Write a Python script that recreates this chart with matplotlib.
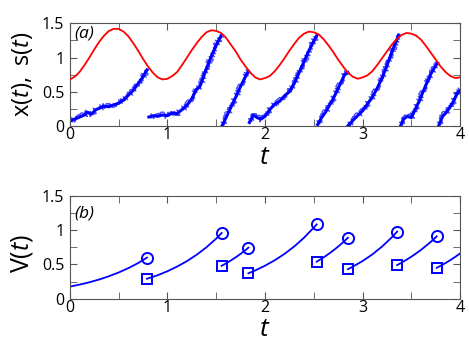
import numpy as np
import matplotlib
matplotlib.use("Agg")
import matplotlib.pyplot as plt
from matplotlib.ticker import MultipleLocator

plt.rcParams['font.family'] = ['Open Sans', 'DejaVu Sans']
plt.rcParams['mathtext.fontset'] = 'custom'
plt.rcParams['mathtext.rm'] = 'Open Sans'
plt.rcParams['mathtext.it'] = 'Open Sans:italic'

# threshold s(t), sampled every 0.05
t_s = np.round(np.arange(0, 4.001, 0.05), 2)
s_vals = [0.68, 0.72, 0.79, 0.89, 1.00, 1.12, 1.23, 1.32, 1.39, 1.42,
          1.42, 1.38, 1.31, 1.21, 1.10, 0.98, 0.87, 0.78, 0.71, 0.68,
          0.69, 0.73, 0.79, 0.89, 1.00, 1.11, 1.21, 1.30, 1.37, 1.40,
          1.39, 1.36, 1.29, 1.19, 1.09, 0.97, 0.87, 0.78, 0.71, 0.68,
          0.70, 0.73, 0.80, 0.89, 0.99, 1.10, 1.20, 1.29, 1.35, 1.38,
          1.37, 1.34, 1.27, 1.18, 1.08, 0.97, 0.87, 0.78, 0.72, 0.69,
          0.71, 0.74, 0.80, 0.89, 0.99, 1.09, 1.19, 1.27, 1.33, 1.36,
          1.35, 1.32, 1.26, 1.17, 1.07, 0.97, 0.87, 0.79, 0.73, 0.70, 0.71]

# x(t) trajectory, one list per segment between resets
x_t = [
    [0.00, 0.05, 0.10, 0.15, 0.18, 0.22, 0.26, 0.30, 0.35, 0.40, 0.45, 0.50, 0.55, 0.60, 0.65, 0.70, 0.75, 0.79],
    [0.81, 0.86, 0.90, 0.95, 1.00, 1.05, 1.10, 1.15, 1.20, 1.25, 1.30, 1.33, 1.35, 1.40, 1.45, 1.50, 1.55],
    [1.56, 1.60, 1.65, 1.70, 1.75, 1.80, 1.83],
    [1.84, 1.88, 1.92, 1.96, 2.00, 2.05, 2.10, 2.15, 2.20, 2.25, 2.30, 2.35, 2.40, 2.45, 2.50, 2.53],
    [2.54, 2.58, 2.62, 2.66, 2.70, 2.74, 2.78, 2.82, 2.85],
    [2.85, 2.90, 2.95, 3.00, 3.05, 3.10, 3.15, 3.20, 3.25, 3.30, 3.37],
    [3.39, 3.42, 3.46, 3.50, 3.54, 3.58, 3.62, 3.66, 3.70, 3.74, 3.77],
    [3.78, 3.82, 3.86, 3.90, 3.94, 3.97, 4.00],
]
x_v = [
    [0.07, 0.10, 0.13, 0.16, 0.20, 0.17, 0.23, 0.26, 0.29, 0.28, 0.31, 0.33, 0.38, 0.45, 0.52, 0.62, 0.72, 0.82],
    [0.13, 0.15, 0.14, 0.16, 0.15, 0.19, 0.18, 0.24, 0.30, 0.40, 0.54, 0.57, 0.64, 0.84, 1.02, 1.18, 1.32],
    [0.00, 0.12, 0.27, 0.42, 0.58, 0.72, 0.80],
    [0.05, 0.16, 0.12, 0.10, 0.14, 0.24, 0.32, 0.36, 0.44, 0.50, 0.62, 0.78, 0.94, 1.10, 1.24, 1.32],
    [0.02, 0.12, 0.20, 0.30, 0.40, 0.52, 0.64, 0.76, 0.78],
    [0.00, 0.08, 0.15, 0.22, 0.32, 0.42, 0.55, 0.70, 0.88, 1.08, 1.33],
    [0.00, 0.10, 0.14, 0.12, 0.24, 0.36, 0.50, 0.63, 0.76, 0.86, 0.92],
    [0.00, 0.14, 0.20, 0.28, 0.38, 0.48, 0.52],
]

# V(t) segments
V_t = [
    [0.00, 0.10, 0.20, 0.30, 0.40, 0.50, 0.60, 0.70, 0.79],
    [0.79, 0.90, 1.00, 1.10, 1.20, 1.30, 1.40, 1.50, 1.556],
    [1.556, 1.60, 1.65, 1.70, 1.75, 1.80, 1.83],
    [1.83, 1.90, 2.00, 2.10, 2.20, 2.30, 2.40, 2.50, 2.53],
    [2.53, 2.60, 2.65, 2.70, 2.75, 2.80, 2.85],
    [2.85, 2.90, 3.00, 3.10, 3.20, 3.30, 3.355],
    [3.355, 3.40, 3.50, 3.60, 3.70, 3.76],
    [3.76, 3.80, 3.85, 3.90, 3.95, 4.00],
]
V_v = [
    [0.175, 0.205, 0.239, 0.279, 0.327, 0.382, 0.446, 0.52, 0.60],
    [0.29, 0.342, 0.40, 0.469, 0.548, 0.642, 0.751, 0.878, 0.96],
    [0.48, 0.515, 0.558, 0.604, 0.655, 0.709, 0.745],
    [0.37, 0.412, 0.481, 0.561, 0.654, 0.763, 0.89, 1.039, 1.086],
    [0.54, 0.602, 0.651, 0.704, 0.761, 0.823, 0.89],
    [0.43, 0.467, 0.549, 0.646, 0.761, 0.896, 0.98],
    [0.49, 0.525, 0.612, 0.713, 0.83, 0.91],
    [0.45, 0.48, 0.52, 0.563, 0.61, 0.66],
]

fig = plt.figure(figsize=(4.69, 3.44), dpi=100)
ax1 = fig.add_axes([0.149, 0.634, 0.832, 0.298])
ax2 = fig.add_axes([0.149, 0.132, 0.832, 0.298])

for ax in (ax1, ax2):
    ax.set_xlim(0, 4)
    ax.set_ylim(0, 1.5)
    ax.xaxis.set_major_locator(MultipleLocator(1))
    ax.xaxis.set_minor_locator(MultipleLocator(0.5))
    ax.yaxis.set_major_locator(MultipleLocator(0.5))
    ax.yaxis.set_minor_locator(MultipleLocator(0.25))
    ax.set_yticks([0, 0.5, 1, 1.5], ['0', '0.5', '1', '1.5'])
    ax.tick_params(which='both', direction='in', top=True, right=True,
                   labelsize=11.5, color='#555555')
    ax.tick_params(axis='x', pad=1)
    ax.tick_params(axis='y', pad=4)
    ax.tick_params(which='major', length=5)
    ax.tick_params(which='minor', length=5)
    for sp in ax.spines.values():
        sp.set_color('#555555')
    ax.set_xlabel('$t$', fontsize=19, labelpad=1)

ax1.plot(t_s, s_vals, color='red', lw=1.3, zorder=3)
for tt, vv in zip(x_t, x_v):
    ax1.plot(tt, vv, color='blue', lw=2.2, zorder=2)
    ln, = ax1.plot(tt, vv, color='blue', lw=1.0, zorder=2, alpha=0.7)
    ln.set_sketch_params(scale=3.0, length=1.0, randomness=2)
ax1.set_ylabel(r'$\mathrm{x}(t),\ \mathrm{s}(t)$', fontsize=17)
ax1.yaxis.set_label_coords(-0.09, 0.5)
ax1.text(0.05, 1.35, '(a)', fontsize=12.5, style='italic', ha='left', va='center')

for i, (tt, vv) in enumerate(zip(V_t, V_v)):
    ax2.plot(tt, vv, color='blue', lw=1.3)
    if i > 0:
        ax2.plot(tt[0], vv[0], marker='s', ms=7, mfc='none', mec='blue', mew=1.4)
    if tt[-1] < 4:
        ax2.plot(tt[-1], vv[-1], marker='o', ms=8, mfc='none', mec='blue', mew=1.4)
ax2.set_ylabel(r'$\mathrm{V}(t)$', fontsize=18)
ax2.yaxis.set_label_coords(-0.09, 0.44)
ax2.text(0.05, 1.25, '(b)', fontsize=12.5, style='italic', ha='left', va='center')

fig.savefig('out.png', dpi=100)
